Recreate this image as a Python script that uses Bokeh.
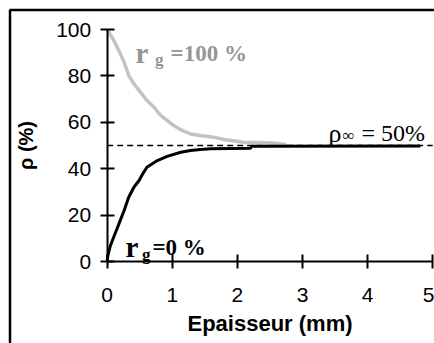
from bokeh.plotting import figure
from bokeh.models import Range1d, FixedTicker, Label, BoxAnnotation
from bokeh.embed import file_html
from bokeh.resources import INLINE

# ---- data ----
thickness_rg100 = [0.0, 0.10, 0.18, 0.26, 0.33, 0.41, 0.51, 0.61, 0.72, 0.82, 0.92,
                   1.02, 1.15, 1.28, 1.43, 1.63, 1.79, 2.09, 2.46, 2.60, 2.75]
rho_rg100 = [100.0, 95.4, 90.9, 85.9, 80.2, 76.6, 73.0, 69.4, 66.5, 63.0, 60.8,
             58.6, 56.5, 55.0, 54.3, 53.6, 52.6, 51.4, 51.2, 51.0, 50.3]
thickness_rg0 = [0.0, 0.01, 0.05, 0.11, 0.18, 0.26, 0.33, 0.41, 0.49, 0.55, 0.61, 0.77,
                 0.92, 1.13, 1.28, 1.43, 1.59, 2.20, 2.22, 4.81]
rho_rg0 = [0.0, 2.6, 6.9, 11.2, 16.2, 22.0, 27.7, 32.0, 34.9, 38.0, 40.6, 43.5,
           45.3, 47.1, 47.8, 48.3, 48.6, 48.8, 49.7, 49.8]
rho_inf = 50
rho_inf_extent = [0, 5]
x_ticks = [0, 1, 2, 3, 4, 5]
y_ticks = [0, 20, 40, 60, 80, 100]
x_label = "Epaisseur (mm)"
y_label = "ρ (%)"

# ---- layout ----
W, H = 434, 343
PX_X, X0_PX = 65.12, 106.7
PX_Y, Y0_PX = 2.32, 261.0
x_start, x_end = -X0_PX / PX_X, (W - X0_PX) / PX_X
y_end, y_start = Y0_PX / PX_Y, -(H - Y0_PX) / PX_Y

p = figure(width=W, height=H, x_range=Range1d(x_start, x_end),
           y_range=Range1d(y_start, y_end), output_backend="svg",
           toolbar_location=None, min_border=0)
p.outline_line_color = None
p.grid.visible = False
p.background_fill_color = "white"
p.border_fill_color = "white"

p.xaxis.fixed_location = 0
p.yaxis.fixed_location = 0
p.xaxis.ticker = FixedTicker(ticks=x_ticks)
p.yaxis.ticker = FixedTicker(ticks=y_ticks)
p.xaxis.bounds = (x_ticks[0], x_ticks[-1])
p.yaxis.bounds = (y_ticks[0], y_ticks[-1])
p.xaxis.axis_label = x_label
p.yaxis.axis_label = y_label
for ax in (p.xaxis[0], p.yaxis[0]):
    ax.axis_line_width = 2
    ax.axis_line_color = "black"
    ax.major_tick_line_width = 2
    ax.major_tick_line_color = "black"
    ax.major_tick_in = 7
    ax.major_tick_out = 7
    ax.minor_tick_line_color = None
    ax.major_label_text_font = "Liberation Sans"
    ax.major_label_text_font_size = "21px"
    ax.major_label_text_color = "black"
    ax.axis_label_text_font = "Liberation Sans"
    ax.axis_label_text_font_style = "bold"
    ax.axis_label_text_color = "black"
p.xaxis.axis_label_text_font_size = "22px"
p.yaxis.axis_label_text_font_size = "20px"
p.xaxis.major_label_standoff = 19
p.xaxis.axis_label_standoff = 6
p.yaxis.major_label_standoff = 9
p.yaxis.axis_label_standoff = 16

# chart border (left & top visible)
p.add_layout(BoxAnnotation(left=x_start + 9.5 / PX_X, top=y_end - 9.5 / PX_Y,
                           right=x_end + 10, bottom=y_start - 10,
                           fill_color=None, fill_alpha=0, line_color="black",
                           line_alpha=1.0, line_width=2.5))

# data
p.line(rho_inf_extent, [rho_inf, rho_inf], line_color="black", line_width=1.5,
       line_dash="6 4")
p.line(thickness_rg100, rho_rg100, line_color="#c3c3c3", line_width=3.5)
p.line(thickness_rg0, rho_rg0, line_color="black", line_width=3)

SERIF = "Liberation Serif"
GRAY_TXT = "#959595"

def lab(x, y, text, size, color, style="normal", xo=0, yo=0):
    p.add_layout(Label(x=x, y=y, x_offset=xo, y_offset=yo, text=text,
                       text_font=SERIF, text_font_size=f"{size}px",
                       text_font_style=style, text_color=color,
                       text_align="left", text_baseline="alphabetic"))

# r_g = 100 %
gx, gy = 0.435, 89.7
lab(gx, gy, "r", 29, GRAY_TXT, "bold")
lab(gx, gy, "g", 17, GRAY_TXT, "bold", xo=19.5, yo=-6)
lab(gx, gy, "=100 %", 23, GRAY_TXT, "bold", xo=35)

# r_g = 0 %
bx, by = 0.281, 6.25
lab(bx, by, "r", 29, "black", "bold")
lab(bx, by, "g", 17, "black", "bold", xo=16.5, yo=-7)
lab(bx, by, "=0 %", 23, "black", "bold", xo=27)

# rho_inf = 50%
rx, ry = 3.398, 55.2
lab(rx, ry, "ρ", 26, "black")
lab(rx, ry, "∞", 17, "black", xo=14, yo=-2)
lab(rx, ry, "= 50%", 24, "black", xo=33)

open("out.html", "w").write(file_html(p, INLINE))
